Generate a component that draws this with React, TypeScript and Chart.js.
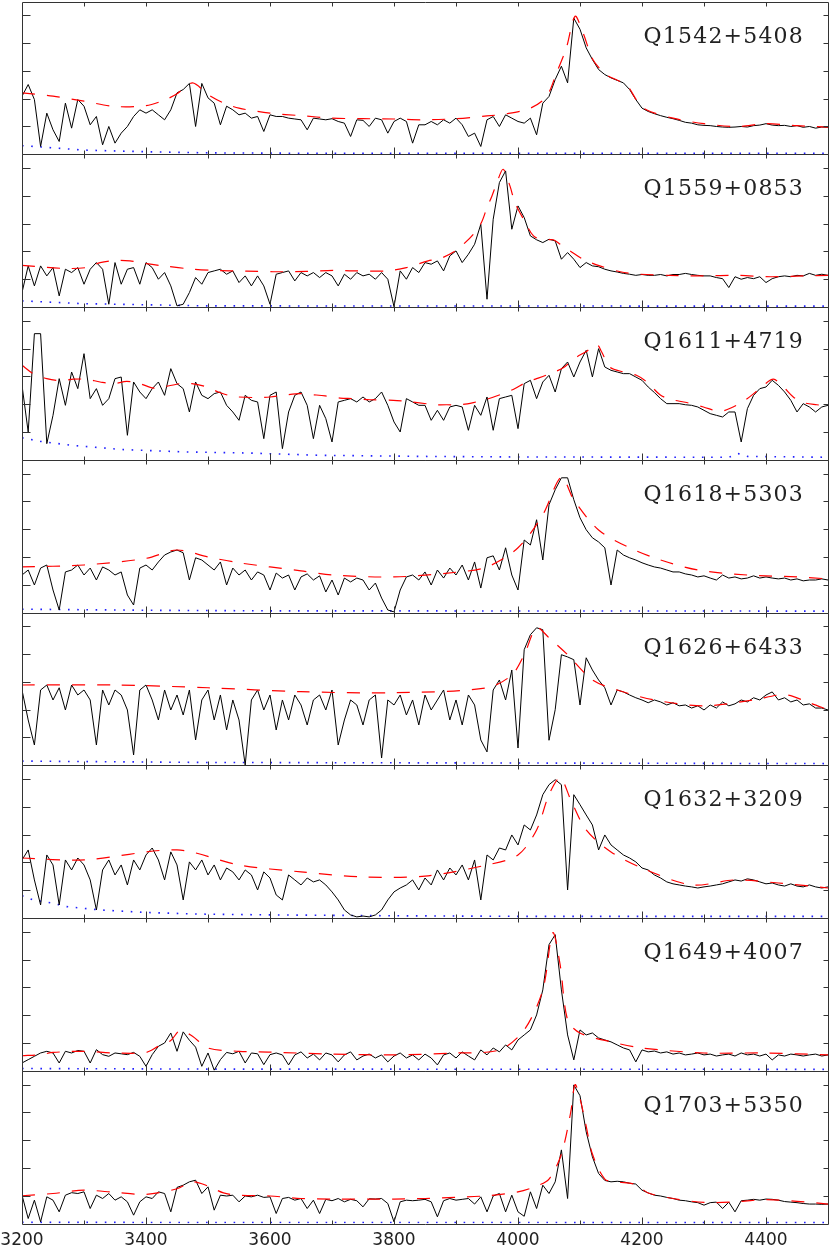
import React, { useEffect, useRef } from 'react';
import { Chart, registerables } from 'chart.js';

Chart.register(...registerables);

// ---------- DATA ----------
const WAVE = [
  3200, 3210, 3220, 3230, 3240, 3250, 3260, 3270, 3280, 3290,
  3300, 3310, 3320, 3330, 3340, 3350, 3360, 3370, 3380, 3390,
  3400, 3410, 3420, 3430, 3440, 3450, 3460, 3470, 3480, 3490,
  3500, 3510, 3520, 3530, 3540, 3550, 3560, 3570, 3580, 3590,
  3600, 3610, 3620, 3630, 3640, 3650, 3660, 3670, 3680, 3690,
  3700, 3710, 3720, 3730, 3740, 3750, 3760, 3770, 3780, 3790,
  3800, 3810, 3820, 3830, 3840, 3850, 3860, 3870, 3880, 3890,
  3900, 3910, 3920, 3930, 3940, 3950, 3960, 3970, 3980, 3990,
  4000, 4010, 4020, 4030, 4040, 4050, 4060, 4070, 4080, 4090,
  4100, 4110, 4120, 4130, 4140, 4150, 4160, 4170, 4180, 4190,
  4200, 4210, 4220, 4230, 4240, 4250, 4260, 4270, 4280, 4290,
  4300, 4310, 4320, 4330, 4340, 4350, 4360, 4370, 4380, 4390,
  4400, 4410, 4420, 4430, 4440, 4450, 4460, 4470, 4480, 4490,
  4500,
];

const PANEL_NAMES = [
  'Q1542+5408', 'Q1559+0853', 'Q1611+4719', 'Q1618+5303',
  'Q1626+6433', 'Q1632+3209', 'Q1649+4007', 'Q1703+5350',
];

const P1_FLUX = [
  2.09, 2.51, 1.97, 0.28, 1.48, 0.88, 0.46, 1.84, 0.94, 1.97,
  1.73, 1.06, 1.36, 0.34, 1.00, 0.40, 0.76, 1.00, 1.36, 1.60,
  1.48, 1.60, 1.42, 1.24, 1.60, 2.21, 2.33, 2.55, 1.00, 2.55,
  2.03, 1.84, 1.06, 1.73, 1.60, 1.42, 1.48, 1.30, 1.36, 0.82,
  1.42, 1.36, 1.36, 1.30, 1.27, 1.24, 0.88, 1.30, 1.27, 1.24,
  1.28, 1.18, 1.12, 0.64, 1.24, 1.22, 1.00, 1.30, 1.24, 0.76,
  1.18, 1.30, 1.18, 0.40, 1.06, 1.06, 1.18, 1.06, 1.24, 1.12,
  1.30, 1.06, 0.64, 0.76, 0.28, 1.24, 1.36, 1.00, 1.42, 1.30,
  1.18, 1.12, 1.30, 0.70, 1.84, 2.08, 2.69, 3.17, 2.57, 4.90,
  4.50, 3.83, 3.41, 3.05, 2.87, 2.75, 2.66, 2.57, 2.33, 1.97,
  1.66, 1.54, 1.46, 1.39, 1.33, 1.28, 1.22, 1.15, 1.12, 1.06,
  1.04, 1.03, 1.00, 0.98, 0.97, 0.98, 1.00, 0.98, 1.03, 1.05,
  1.10, 1.05, 1.03, 1.04, 1.00, 1.03, 0.97, 1.00, 0.94, 0.98,
  0.97,
];
const P2_FLUX = [
  0.52, 1.48, 0.76, 1.48, 1.12, 1.42, 0.40, 1.36, 1.24, 1.42,
  0.82, 1.36, 1.60, 1.36, 0.10, 1.60, 0.82, 1.36, 1.42, 0.82,
  1.60, 1.42, 1.00, 1.24, 0.76, 0.04, 0.10, 0.52, 1.06, 0.82,
  1.24, 1.30, 1.36, 1.18, 1.30, 0.88, 1.12, 0.76, 1.12, 0.76,
  0.10, 1.18, 1.24, 1.30, 0.94, 1.24, 1.12, 1.24, 1.06, 1.24,
  1.12, 0.76, 1.18, 1.00, 1.24, 1.12, 1.18, 1.00, 1.24, 1.00,
  0.01, 1.30, 1.00, 1.42, 1.24, 1.60, 1.54, 1.66, 1.30, 1.84,
  2.02, 1.60, 1.90, 2.26, 2.98, 0.28, 3.16, 4.48, 4.90, 2.80,
  3.64, 3.22, 2.56, 2.42, 2.32, 2.44, 2.38, 1.72, 1.96, 1.72,
  1.42, 1.60, 1.48, 1.45, 1.36, 1.30, 1.26, 1.21, 1.18, 1.14,
  1.17, 1.14, 1.14, 1.17, 1.12, 1.17, 1.17, 1.21, 1.17, 1.14,
  1.12, 1.12, 1.06, 1.02, 0.70, 1.09, 1.00, 1.06, 1.02, 1.09,
  0.88, 1.02, 1.09, 1.12, 1.09, 1.14, 1.12, 1.21, 1.14, 1.18,
  1.14,
];
const P3_FLUX = [
  2.68, 1.00, 4.54, 4.54, 0.58, 1.60, 2.92, 1.96, 3.16, 2.56,
  3.82, 2.20, 2.56, 1.96, 2.20, 2.92, 2.98, 0.88, 2.80, 2.44,
  2.20, 2.56, 2.80, 2.32, 3.28, 2.74, 2.56, 1.72, 2.80, 2.32,
  2.20, 2.38, 2.44, 1.96, 1.72, 1.42, 2.32, 2.14, 2.08, 0.76,
  2.32, 2.44, 0.40, 1.72, 2.32, 2.44, 1.96, 0.76, 1.96, 1.48,
  0.64, 2.08, 2.14, 2.20, 2.08, 2.26, 2.08, 2.20, 2.44, 1.96,
  1.36, 1.00, 2.20, 2.08, 1.96, 1.96, 1.42, 1.78, 1.42, 1.90,
  1.96, 1.90, 1.06, 1.96, 1.60, 2.26, 1.06, 2.20, 2.26, 2.32,
  1.12, 2.74, 2.86, 2.20, 2.80, 3.04, 2.44, 3.28, 3.52, 2.98,
  3.52, 3.94, 2.98, 4.00, 3.34, 3.22, 3.16, 3.10, 3.10, 2.98,
  2.86, 2.62, 2.42, 2.20, 2.02, 2.02, 2.02, 1.98, 1.96, 1.90,
  1.78, 1.66, 1.60, 1.54, 1.72, 1.72, 0.64, 1.84, 2.32, 2.56,
  2.62, 2.86, 2.68, 2.44, 2.14, 1.72, 2.02, 1.90, 1.72, 1.90,
  1.96,
];
const P4_FLUX = [
  1.35, 1.53, 0.99, 1.60, 1.71, 0.81, 0.09, 1.46, 1.53, 1.71,
  1.35, 1.60, 1.17, 1.64, 1.53, 1.35, 1.46, 0.63, 0.27, 1.60,
  1.71, 1.53, 1.82, 2.07, 2.18, 2.25, 2.15, 1.17, 1.97, 1.89,
  1.71, 1.53, 1.82, 0.99, 1.60, 1.35, 1.53, 1.17, 1.46, 1.35,
  0.81, 1.42, 1.24, 1.35, 0.81, 1.28, 1.39, 1.17, 1.32, 0.74,
  1.17, 0.63, 1.24, 1.10, 1.24, 1.17, 0.81, 1.06, 0.52, 0.09,
  0.02, 0.81, 1.28, 1.35, 1.17, 1.46, 0.99, 1.53, 1.24, 1.60,
  1.35, 1.71, 1.17, 1.82, 0.88, 1.97, 2.04, 1.53, 2.33, 1.35,
  0.81, 2.61, 2.43, 3.34, 1.89, 3.88, 4.42, 4.85, 4.85, 4.06,
  3.41, 2.98, 2.69, 2.54, 2.33, 0.99, 2.25, 2.07, 1.97, 1.89,
  1.79, 1.71, 1.64, 1.60, 1.53, 1.46, 1.46, 1.39, 1.35, 1.28,
  1.32, 1.24, 1.17, 1.35, 1.24, 1.28, 1.21, 1.24, 1.32, 1.24,
  1.28, 1.24, 1.21, 1.24, 1.17, 1.21, 1.14, 1.17, 1.17, 1.21,
  1.17,
];
const P5_FLUX = [
  2.71, 1.63, 0.73, 2.71, 2.89, 2.35, 2.79, 1.99, 2.89, 2.53,
  2.71, 2.35, 0.73, 2.71, 2.17, 2.71, 2.53, 1.99, 0.37, 2.71,
  2.89, 2.35, 1.63, 2.71, 1.99, 2.53, 1.81, 2.71, 0.91, 2.35,
  2.71, 1.63, 2.53, 1.27, 2.35, 1.63, 0.01, 2.35, 2.71, 1.99,
  2.53, 1.27, 2.35, 1.63, 2.53, 2.17, 1.45, 2.35, 2.53, 1.99,
  2.71, 0.73, 1.63, 2.35, 2.17, 1.45, 2.35, 2.53, 0.26, 2.35,
  2.17, 2.53, 1.81, 2.35, 1.45, 2.53, 1.99, 2.35, 2.71, 1.63,
  2.35, 1.45, 2.53, 2.17, 0.91, 0.48, 2.71, 3.07, 2.35, 3.43,
  0.62, 4.16, 4.70, 4.95, 4.88, 0.90, 2.00, 3.98, 3.90, 3.80,
  2.17, 3.87, 3.43, 3.07, 2.79, 2.17, 2.71, 2.64, 2.53, 2.43,
  2.35, 2.25, 2.35, 2.28, 2.17, 2.25, 2.14, 2.17, 2.06, 2.14,
  1.99, 2.17, 2.06, 2.28, 2.14, 2.21, 2.35, 2.28, 2.43, 2.35,
  2.53, 2.64, 2.35, 2.43, 2.28, 2.35, 2.17, 2.21, 2.06, 2.06,
  1.99,
];
const P6_FLUX = [
  2.09, 2.45, 1.37, 0.47, 2.27, 1.91, 0.47, 2.09, 1.73, 2.16,
  1.91, 1.37, 0.29, 1.73, 2.09, 1.55, 1.91, 1.19, 2.09, 1.73,
  2.27, 2.52, 2.09, 1.37, 2.38, 1.91, 0.65, 2.02, 1.73, 2.09,
  1.55, 1.91, 1.37, 1.80, 1.66, 1.37, 1.73, 1.55, 1.01, 1.66,
  1.44, 0.83, 0.65, 1.55, 1.37, 1.19, 1.44, 1.30, 1.37, 1.19,
  0.94, 0.65, 0.29, 0.11, 0.04, 0.07, 0.04, 0.11, 0.29, 0.65,
  0.94, 1.08, 1.19, 1.37, 1.01, 1.44, 1.19, 1.73, 1.37, 1.80,
  1.55, 1.91, 1.37, 2.09, 0.65, 2.27, 2.09, 2.52, 2.45, 2.99,
  2.63, 3.35, 3.17, 3.71, 4.44, 4.80, 4.98, 4.80, 1.01, 4.44,
  4.08, 3.71, 3.35, 2.45, 2.99, 2.63, 2.45, 2.27, 2.16, 2.02,
  1.80, 1.73, 1.55, 1.44, 1.30, 1.23, 1.19, 1.15, 1.12, 1.08,
  1.12, 1.15, 1.19, 1.23, 1.30, 1.37, 1.33, 1.41, 1.37, 1.30,
  1.23, 1.26, 1.19, 1.15, 1.23, 1.15, 1.12, 1.19, 1.12, 1.08,
  1.12,
];
const P7_FLUX = [
  0.28, 0.40, 0.52, 0.64, 0.70, 0.64, 0.28, 0.70, 0.64, 0.73,
  0.70, 0.28, 0.76, 0.58, 0.52, 0.64, 0.61, 0.58, 0.66, 0.52,
  0.16, 0.58, 0.88, 1.00, 1.36, 0.70, 1.40, 1.10, 0.85, 0.16,
  0.64, 0.02, 0.40, 0.66, 0.61, 0.70, 0.28, 0.64, 0.61, 0.22,
  0.58, 0.64, 0.57, 0.21, 0.57, 0.68, 0.46, 0.60, 0.39, 0.64,
  0.57, 0.32, 0.57, 0.68, 0.39, 0.53, 0.60, 0.46, 0.57, 0.32,
  0.53, 0.64, 0.46, 0.57, 0.39, 0.60, 0.46, 0.21, 0.57, 0.64,
  0.46, 0.68, 0.53, 0.39, 0.75, 0.57, 0.82, 0.68, 0.93, 0.75,
  1.11, 1.29, 1.47, 2.01, 2.91, 4.54, 4.90, 2.91, 1.29, 0.39,
  1.47, 1.29, 1.36, 1.18, 1.11, 1.04, 0.93, 0.82, 0.75, 0.32,
  0.75, 0.68, 0.71, 0.64, 0.68, 0.60, 0.64, 0.57, 0.60, 0.64,
  0.57, 0.60, 0.53, 0.57, 0.60, 0.53, 0.64, 0.57, 0.60, 0.53,
  0.60, 0.39, 0.57, 0.53, 0.60, 0.57, 0.53, 0.57, 0.60, 0.53,
  0.57,
];
const P8_FLUX = [
  1.02, 0.18, 0.84, 0.06, 0.96, 0.84, 0.42, 1.02, 1.11, 1.08,
  1.14, 0.54, 1.02, 0.90, 1.08, 0.84, 0.96, 0.78, 0.30, 0.78,
  0.96, 0.90, 1.14, 1.08, 0.42, 1.30, 1.38, 1.50, 1.56, 1.08,
  1.32, 0.48, 1.02, 0.99, 1.02, 0.78, 0.99, 0.96, 1.02, 0.94,
  0.96, 0.36, 0.90, 0.94, 0.84, 0.90, 0.54, 0.84, 0.36, 0.87,
  0.82, 0.90, 0.78, 0.87, 0.82, 0.60, 0.89, 0.88, 0.90, 0.72,
  0.06, 0.78, 0.84, 0.82, 0.84, 0.87, 0.78, 0.24, 0.82, 0.90,
  0.84, 0.87, 0.90, 0.70, 0.96, 0.42, 0.99, 1.08, 0.42, 1.02,
  0.42, 0.26, 1.14, 0.54, 1.38, 1.08, 1.50, 2.65, 0.90, 4.99,
  4.60, 3.30, 2.40, 1.80, 1.55, 1.50, 1.52, 1.50, 1.45, 1.42,
  1.20, 1.10, 1.02, 0.99, 0.94, 0.90, 0.84, 0.82, 0.78, 0.75,
  0.66, 0.75, 0.77, 0.54, 0.77, 0.42, 0.82, 0.84, 0.87, 0.84,
  0.88, 0.87, 0.84, 0.79, 0.77, 0.75, 0.72, 0.70, 0.70, 0.69,
  0.70,
];

// continuum fits: [wavelength, flux]
const P1_CONT = [
  [3200, 2.21], [3250, 2.09], [3300, 1.91], [3350, 1.72], [3400, 1.75], [3430, 1.95],
  [3450, 2.18], [3475, 2.57], [3500, 2.15], [3525, 1.85], [3550, 1.66], [3600, 1.48],
  [3650, 1.39], [3700, 1.30], [3750, 1.28], [3800, 1.27], [3850, 1.24], [3900, 1.28],
  [3950, 1.38], [3980, 1.45], [4020, 1.66], [4046, 2.08], [4062, 2.92], [4078, 3.83],
  [4092, 4.97], [4105, 4.37], [4121, 3.40], [4142, 2.87], [4164, 2.63], [4178, 2.42],
  [4191, 1.96], [4207, 1.60], [4250, 1.30], [4300, 1.10], [4353, 1.00], [4400, 1.10],
  [4450, 1.03], [4500, 0.98],
];
const P2_CONT = [
  [3200, 1.50], [3267, 1.39], [3304, 1.42], [3326, 1.60], [3353, 1.68], [3374, 1.66],
  [3401, 1.56], [3428, 1.48], [3476, 1.36], [3509, 1.32], [3562, 1.29], [3605, 1.27],
  [3659, 1.28], [3702, 1.32], [3734, 1.30], [3788, 1.30], [3820, 1.42], [3855, 1.66],
  [3874, 1.74], [3896, 1.98], [3912, 2.26], [3928, 2.62], [3941, 3.04], [3950, 3.58],
  [3958, 4.00], [3966, 4.48], [3976, 4.96], [3987, 4.36], [3995, 3.76], [4009, 3.16],
  [4025, 2.56], [4041, 2.42], [4057, 2.42], [4068, 2.26], [4084, 2.02], [4105, 1.72],
  [4132, 1.48], [4165, 1.27], [4197, 1.18], [4245, 1.14], [4299, 1.12], [4353, 1.14],
  [4407, 1.09], [4460, 1.12], [4500, 1.14],
];
const P3_CONT = [
  [3200, 3.40], [3218, 3.10], [3240, 2.92], [3261, 2.85], [3283, 2.90], [3304, 2.90],
  [3326, 2.80], [3347, 2.74], [3369, 2.82], [3390, 2.74], [3412, 2.58], [3428, 2.62],
  [3455, 2.74], [3474, 2.74], [3498, 2.62], [3519, 2.42], [3541, 2.28], [3573, 2.24],
  [3600, 2.26], [3627, 2.34], [3649, 2.38], [3670, 2.34], [3689, 2.30], [3713, 2.22],
  [3734, 2.20], [3761, 2.16], [3799, 2.14], [3820, 2.10], [3855, 2.01], [3864, 1.98],
  [3885, 1.98], [3907, 1.98], [3928, 2.06], [3950, 2.18], [3971, 2.34], [3993, 2.54],
  [4014, 2.80], [4030, 2.92], [4052, 3.10], [4073, 3.31], [4089, 3.62], [4111, 3.91],
  [4127, 4.15], [4135, 3.88], [4148, 3.34], [4170, 3.16], [4191, 3.04], [4208, 2.80],
  [4229, 2.34], [4245, 2.18], [4272, 2.06], [4299, 1.90], [4326, 1.74], [4347, 1.90],
  [4366, 2.14], [4380, 2.38], [4396, 2.68], [4412, 2.90], [4428, 2.62], [4444, 2.26],
  [4460, 2.06], [4482, 1.98], [4500, 1.94],
];
const P4_CONT = [
  [3200, 1.64], [3300, 1.71], [3400, 1.95], [3450, 2.25], [3500, 2.00], [3550, 1.79],
  [3650, 1.50], [3700, 1.35], [3800, 1.28], [3900, 1.45], [3950, 1.64], [4000, 2.33],
  [4040, 3.52], [4070, 4.88], [4090, 4.06], [4130, 2.97], [4180, 2.33], [4230, 1.89],
  [4290, 1.53], [4370, 1.35], [4450, 1.28], [4500, 1.21],
];
const P5_CONT = [
  [3200, 2.89], [3350, 2.89], [3500, 2.79], [3650, 2.65], [3800, 2.61], [3950, 2.79],
  [3990, 3.25], [4010, 3.98], [4030, 4.95], [4050, 4.59], [4080, 3.98], [4120, 3.07],
  [4160, 2.71], [4220, 2.35], [4300, 2.14], [4380, 2.35], [4430, 2.54], [4470, 2.25],
  [4500, 2.00],
];
const P6_CONT = [
  [3200, 2.16], [3300, 2.09], [3450, 2.45], [3550, 1.91], [3650, 1.66], [3750, 1.48],
  [3850, 1.51], [3950, 1.91], [4000, 2.27], [4030, 3.17], [4050, 4.44], [4068, 5.05],
  [4085, 4.26], [4110, 3.17], [4150, 2.38], [4200, 1.80], [4280, 1.19], [4350, 1.37],
  [4420, 1.26], [4500, 1.08],
];
const P7_CONT = [
  [3200, 0.54], [3230, 0.58], [3250, 0.66], [3300, 0.70], [3350, 0.64], [3400, 0.66],
  [3420, 0.88], [3440, 1.09], [3455, 1.45], [3475, 1.24], [3500, 0.82], [3550, 0.70],
  [3600, 0.67], [3700, 0.60], [3800, 0.57], [3900, 0.64], [3970, 0.75], [4010, 1.47],
  [4040, 2.91], [4056, 4.97], [4068, 3.81], [4080, 1.83], [4100, 1.36], [4150, 1.04],
  [4200, 0.82], [4300, 0.64], [4400, 0.64], [4500, 0.57],
];
const P8_CONT = [
  [3200, 1.00], [3250, 1.08], [3300, 1.20], [3350, 1.12], [3400, 1.05], [3450, 1.25],
  [3475, 1.50], [3500, 1.35], [3525, 1.10], [3550, 1.02], [3600, 0.99], [3650, 0.90],
  [3700, 0.88], [3800, 0.88], [3850, 0.90], [3900, 0.94], [3950, 1.00], [4000, 1.14],
  [4030, 1.35], [4050, 1.60], [4070, 2.50], [4085, 4.00], [4092, 5.00], [4100, 4.50],
  [4110, 3.50], [4120, 2.50], [4140, 1.60], [4160, 1.50], [4190, 1.40], [4210, 1.10],
  [4250, 0.90], [4300, 0.76], [4350, 0.78], [4400, 0.86], [4450, 0.80], [4500, 0.70],
];

// error spectra: [wavelength, sigma]
const P1_ERR = [[3200, 0.31], [3300, 0.15], [3400, 0.09], [3500, 0.05], [3600, 0.04], [3800, 0.03], [4500, 0.03]];
const P2_ERR = [[3200, 0.22], [3300, 0.12], [3400, 0.08], [3500, 0.04], [4500, 0.03]];
const P3_ERR = [
  [3200, 0.79], [3230, 0.66], [3280, 0.52], [3360, 0.37], [3465, 0.28], [3570, 0.24],
  [3680, 0.16], [3850, 0.12], [4000, 0.10], [4340, 0.09], [4355, 0.22], [4370, 0.12], [4500, 0.09],
];
const P4_ERR = [[3200, 0.12], [3400, 0.08], [3600, 0.06], [4500, 0.05]];
const P5_ERR = [[3200, 0.15], [3500, 0.10], [4500, 0.06]];
const P6_ERR = [
  [3200, 0.80], [3218, 0.65], [3250, 0.53], [3272, 0.41], [3325, 0.29], [3400, 0.20],
  [3486, 0.14], [3610, 0.11], [3800, 0.08], [4000, 0.06], [4500, 0.06],
];
const P7_ERR = [[3200, 0.08], [3500, 0.06], [4500, 0.05]];
const P8_ERR = [[3200, 0.04], [4500, 0.03]];

const X_MINOR_TICKS = [3300, 3400, 3500, 3600, 3700, 3800, 3900, 4000, 4100, 4200, 4300, 4400];
const X_TICK_LABELS = [3200, 3400, 3600, 3800, 4000, 4200, 4400];
const Y_TICKS = [1, 2, 3, 4, 5];

// ---------- STYLE ----------
const W = 830;
const H = 1247;
const FRAME_COLOR = '#333333';
const TEXT_COLOR = '#222222';

const decorPlugin = {
  id: 'panelDecor',
  afterDatasetsDraw(chart: any) {
    const ctx = chart.ctx as CanvasRenderingContext2D;
    const xs = chart.scales.x;
    const left = Math.round(chart.chartArea.left) + 0.5;
    const right = Math.round(chart.chartArea.right) + 0.5;
    ctx.save();
    ctx.strokeStyle = FRAME_COLOR;
    ctx.lineWidth = 1;
    PANEL_NAMES.forEach((name, k) => {
      const ys = chart.scales['y' + k];
      const top = Math.round(ys.top) + 0.5;
      const bottom = Math.round(ys.bottom) + 0.5;
      ctx.beginPath();
      ctx.rect(left, top, right - left, bottom - top);
      X_MINOR_TICKS.forEach((v) => {
        const px = Math.round(xs.getPixelForValue(v)) + 0.5;
        const major = X_TICK_LABELS.includes(v);
        ctx.moveTo(px, bottom);
        ctx.lineTo(px, bottom - (major ? 7 : 4));
        ctx.moveTo(px, top);
        ctx.lineTo(px, top + 4);
      });
      Y_TICKS.forEach((v) => {
        const py = Math.round(ys.getPixelForValue(v)) + 0.5;
        ctx.moveTo(left, py);
        ctx.lineTo(left + 8, py);
        ctx.moveTo(right, py);
        ctx.lineTo(right - 5, py);
      });
      ctx.stroke();

      ctx.font = '22px "DejaVu Serif"';
      ctx.fillStyle = TEXT_COLOR;
      ctx.textAlign = 'right';
      ctx.textBaseline = 'alphabetic';
      (ctx as any).letterSpacing = '1.2px';
      ctx.fillText(name, 804, ys.top + 41);
      (ctx as any).letterSpacing = '0px';
    });

    ctx.font = '17px "DejaVu Sans"';
    ctx.fillStyle = TEXT_COLOR;
    ctx.textAlign = 'center';
    ctx.textBaseline = 'alphabetic';
    const base = chart.chartArea.bottom + 21.5;
    X_TICK_LABELS.forEach((v) => {
      ctx.fillText(String(v), xs.getPixelForValue(v), base);
    });
    ctx.restore();
  },
};

export default function App() {
  const ref = useRef<HTMLCanvasElement>(null);

  useEffect(() => {
    const canvas = ref.current;
    if (!canvas) return;
    const fluxes = [P1_FLUX, P2_FLUX, P3_FLUX, P4_FLUX, P5_FLUX, P6_FLUX, P7_FLUX, P8_FLUX];
    const conts = [P1_CONT, P2_CONT, P3_CONT, P4_CONT, P5_CONT, P6_CONT, P7_CONT, P8_CONT];
    const errs = [P1_ERR, P2_ERR, P3_ERR, P4_ERR, P5_ERR, P6_ERR, P7_ERR, P8_ERR];

    const datasets: any[] = [];
    const scales: any = {
      x: { type: 'linear', min: 3200, max: 4500, display: false },
    };
    PANEL_NAMES.forEach((name, k) => {
      const yid = 'y' + k;
      scales[yid] = {
        type: 'linear',
        min: 0,
        max: 5.5,
        display: false,
        position: 'left',
        stack: 'panels',
        stackWeight: 1,
        weight: 8 - k,
      };
      datasets.push({
        label: name + ' fit',
        data: conts[k].map(([x, y]) => ({ x, y })),
        xAxisID: 'x',
        yAxisID: yid,
        borderColor: '#ff0000',
        borderWidth: 1.2,
        borderDash: [13, 12],
        pointRadius: 0,
        fill: false,
        tension: 0.3,
        order: 0,
      });
      datasets.push({
        label: name,
        data: WAVE.map((w, i) => ({ x: w, y: fluxes[k][i] })),
        xAxisID: 'x',
        yAxisID: yid,
        borderColor: '#000000',
        borderWidth: 1,
        pointRadius: 0,
        fill: false,
        tension: 0,
        order: 1,
      });
      datasets.push({
        label: name + ' error',
        data: errs[k].map(([x, y]) => ({ x, y })),
        xAxisID: 'x',
        yAxisID: yid,
        borderColor: '#2020ff',
        borderWidth: 1.6,
        borderDash: [1.6, 7.6],
        pointRadius: 0,
        fill: false,
        tension: 0,
        order: 2,
      });
    });

    const chart = new Chart(canvas, {
      type: 'line',
      data: { datasets },
      options: {
        responsive: false,
        animation: false,
        events: [],
        layout: { padding: { left: 22, right: 2, top: 1.5, bottom: 23.5 } },
        scales,
        plugins: {
          legend: { display: false },
          tooltip: { enabled: false },
          title: { display: false },
        },
      },
      plugins: [decorPlugin],
    } as any);

    return () => chart.destroy();
  }, []);

  return (
    <div style={{ position: 'fixed', left: 0, top: 0, width: W, height: H, background: '#ffffff' }}>
      <canvas ref={ref} width={W} height={H} style={{ display: 'block', width: W, height: H }} />
    </div>
  );
}
